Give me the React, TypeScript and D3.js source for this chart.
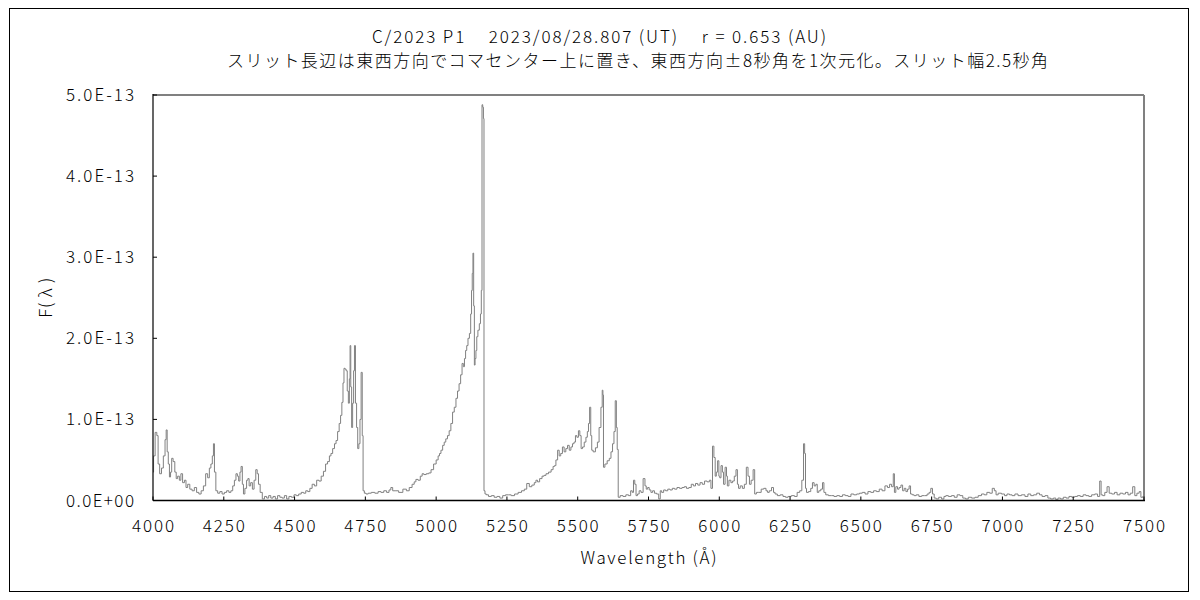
import React from 'react';
import * as d3 from 'd3';

const TITLE_LINE1 = 'C/2023 P1    2023/08/28.807 (UT)    r = 0.653 (AU)';
const TITLE_LINE2 = 'スリット長辺は東西方向でコマセンター上に置き、東西方向±8秒角を1次元化。スリット幅2.5秒角';
const X_LABEL = 'Wavelength (Å)';
const Y_LABEL = 'F( λ )';

const X_TICKS = [4000, 4250, 4500, 4750, 5000, 5250, 5500, 5750, 6000, 6250, 6500, 6750, 7000, 7250, 7500];
const Y_TICKS = [0, 1e-13, 2e-13, 3e-13, 4e-13, 5e-13];
const Y_TICK_LABELS = ['0.0E+00', '1.0E-13', '2.0E-13', '3.0E-13', '4.0E-13', '5.0E-13'];

// Spectrum, [wavelength Å, flux in units of 1e-13]
const SEG_BLUE: [number, number][] = [
  [4000, 0.35], [4004, 0.55], [4011, 0.84], [4016, 0.8], [4020, 0.45], [4027, 0.33], [4033, 0.4], [4040, 0.55],
  [4045, 0.75], [4048, 0.87], [4052, 0.6], [4056, 0.45], [4060, 0.29], [4064, 0.35], [4068, 0.52], [4074, 0.48],
  [4080, 0.35], [4084, 0.27], [4090, 0.3], [4096, 0.25], [4101, 0.33], [4108, 0.22], [4114, 0.25], [4119, 0.16],
  [4126, 0.2], [4134, 0.14], [4142, 0.12], [4150, 0.16], [4158, 0.1], [4166, 0.08], [4174, 0.12], [4182, 0.18],
  [4190, 0.33], [4196, 0.28], [4202, 0.4], [4207, 0.45], [4212, 0.55], [4215, 0.7], [4219, 0.35], [4225, 0.12],
  [4232, 0.09], [4240, 0.11], [4248, 0.08], [4256, 0.1], [4264, 0.12], [4272, 0.1], [4278, 0.12], [4285, 0.18],
  [4290, 0.25], [4296, 0.33], [4300, 0.3], [4305, 0.24], [4309, 0.35], [4313, 0.42], [4318, 0.2], [4321, 0.08],
  [4328, 0.15], [4333, 0.25], [4337, 0.27], [4342, 0.18], [4348, 0.22], [4354, 0.14], [4360, 0.25], [4366, 0.38],
  [4370, 0.33], [4375, 0.2], [4382, 0.1], [4390, 0.02], [4398, 0.05], [4405, 0.03], [4412, 0.06], [4420, 0.03],
  [4428, 0.05], [4436, 0.02], [4444, 0.06], [4452, 0.04], [4460, 0.03], [4468, 0.06], [4476, 0.02], [4484, 0.05],
  [4494, 0.04], [4502, 0.07], [4510, 0.06], [4519, 0.08], [4528, 0.1], [4536, 0.09], [4543, 0.12], [4550, 0.11],
  [4558, 0.15], [4566, 0.2], [4574, 0.18], [4582, 0.25], [4590, 0.24], [4598, 0.3], [4606, 0.36], [4613, 0.45],
  [4620, 0.48], [4626, 0.55], [4631, 0.58], [4638, 0.64], [4644, 0.7], [4649, 0.74], [4655, 0.85], [4660, 0.95],
  [4665, 1.05], [4669, 1.21], [4673, 1.45], [4676, 1.63], [4680, 1.62], [4684, 1.6], [4688, 1.35], [4692, 1.2],
  [4695, 1.5], [4697, 1.91], [4700, 1.4], [4703, 0.9], [4707, 1.2], [4710, 1.6], [4713, 1.91], [4717, 1.2],
  [4721, 0.9], [4725, 0.64], [4729, 0.7], [4733, 1.0], [4737, 1.58], [4741, 0.8], [4743, 0.12], [4750, 0.09],
  [4755, 0.08], [4765, 0.09], [4777, 0.1], [4790, 0.09], [4800, 0.11], [4810, 0.1], [4820, 0.12], [4830, 0.1],
  [4837, 0.13], [4843, 0.16], [4850, 0.12],
];

const SEG_C2_5165: [number, number][] = [
  [4860, 0.12], [4875, 0.1], [4890, 0.14], [4900, 0.12], [4910, 0.16], [4920, 0.2], [4925, 0.23], [4932, 0.26],
  [4940, 0.25], [4948, 0.3], [4953, 0.33], [4960, 0.32], [4970, 0.33], [4978, 0.34], [4986, 0.38], [4996, 0.45],
  [5004, 0.5], [5010, 0.55], [5014, 0.58], [5020, 0.62], [5026, 0.68], [5031, 0.72], [5037, 0.76], [5043, 0.8],
  [5049, 0.86], [5055, 0.95], [5061, 1.09], [5067, 1.15], [5073, 1.26], [5078, 1.35], [5084, 1.44], [5089, 1.55],
  [5094, 1.69], [5098, 1.65], [5102, 1.75], [5106, 1.85], [5110, 1.91], [5115, 2.0], [5120, 2.06], [5124, 2.3],
  [5126, 2.59], [5129, 2.8], [5131, 3.05], [5134, 2.4], [5136, 1.67], [5139, 1.75], [5142, 1.85], [5145, 2.02],
  [5150, 2.1], [5155, 2.18], [5158, 2.3], [5161, 2.59], [5163, 4.88], [5166, 4.85], [5168, 4.71], [5170, 0.12],
  [5175, 0.08],
];

const SEG_C2_5635: [number, number][] = [
  [5180, 0.07], [5190, 0.05], [5200, 0.06], [5210, 0.04], [5220, 0.05], [5230, 0.03], [5240, 0.06], [5250, 0.07],
  [5260, 0.07], [5270, 0.06], [5284, 0.08], [5295, 0.1], [5308, 0.12], [5315, 0.14], [5325, 0.21], [5333, 0.17],
  [5343, 0.19], [5350, 0.22], [5355, 0.25], [5361, 0.23], [5370, 0.27], [5378, 0.3], [5384, 0.31], [5392, 0.33],
  [5402, 0.35], [5410, 0.38], [5416, 0.42], [5420, 0.43], [5426, 0.5], [5432, 0.62], [5437, 0.55], [5443, 0.58],
  [5449, 0.66], [5455, 0.6], [5461, 0.64], [5467, 0.68], [5473, 0.62], [5479, 0.66], [5484, 0.7], [5490, 0.72],
  [5494, 0.8], [5500, 0.78], [5505, 0.86], [5510, 0.8], [5514, 0.64], [5520, 0.66], [5526, 0.72], [5532, 0.78],
  [5536, 0.85], [5540, 0.95], [5544, 1.15], [5548, 0.8], [5551, 0.62], [5558, 0.6], [5567, 0.65], [5572, 0.72],
  [5579, 0.9], [5585, 1.15], [5588, 1.36], [5590, 1.3], [5592, 0.41], [5600, 0.45], [5608, 0.49], [5615, 0.52],
  [5620, 0.6], [5626, 0.7], [5630, 0.85], [5635, 1.23], [5638, 0.9], [5641, 0.63], [5645, 0.04],
];

const SEG_RED: [number, number][] = [
  [5655, 0.06], [5665, 0.05], [5675, 0.07], [5684, 0.06], [5690, 0.12], [5695, 0.1], [5699, 0.25], [5704, 0.2],
  [5708, 0.06], [5714, 0.08], [5720, 0.12], [5727, 0.1], [5735, 0.27], [5740, 0.18], [5744, 0.14], [5750, 0.16],
  [5755, 0.13], [5762, 0.1], [5767, 0.12], [5775, 0.09], [5782, 0.08], [5790, 0.02], [5793, 0.12], [5800, 0.1],
  [5807, 0.13], [5814, 0.12], [5822, 0.14], [5830, 0.13], [5838, 0.15], [5846, 0.14], [5855, 0.16], [5864, 0.15],
  [5873, 0.16], [5880, 0.17], [5888, 0.15], [5897, 0.16], [5905, 0.2], [5912, 0.18], [5920, 0.21], [5928, 0.19],
  [5936, 0.22], [5944, 0.2], [5952, 0.24], [5962, 0.23], [5968, 0.25], [5973, 0.15], [5979, 0.67], [5983, 0.53],
  [5988, 0.3], [5991, 0.35], [5997, 0.49], [6000, 0.3], [6003, 0.28], [6009, 0.43], [6013, 0.35], [6017, 0.2],
  [6024, 0.41], [6027, 0.3], [6030, 0.18], [6038, 0.25], [6044, 0.22], [6050, 0.24], [6056, 0.3], [6062, 0.38],
  [6066, 0.2], [6070, 0.15], [6078, 0.18], [6085, 0.15], [6092, 0.2], [6099, 0.41], [6104, 0.3], [6109, 0.2],
  [6116, 0.25], [6123, 0.38], [6127, 0.08], [6135, 0.1], [6144, 0.1], [6152, 0.14], [6162, 0.15], [6168, 0.12],
  [6173, 0.1], [6180, 0.12], [6189, 0.16], [6194, 0.1], [6200, 0.08], [6210, 0.06], [6220, 0.07], [6230, 0.05],
  [6238, 0.04], [6248, 0.05], [6261, 0.06], [6270, 0.05], [6280, 0.1], [6288, 0.12], [6295, 0.25], [6300, 0.7],
  [6303, 0.58], [6306, 0.15], [6310, 0.1], [6320, 0.11], [6326, 0.15], [6332, 0.22], [6338, 0.18], [6344, 0.2],
  [6348, 0.1], [6355, 0.12], [6362, 0.14], [6367, 0.22], [6372, 0.1], [6380, 0.07], [6391, 0.06], [6400, 0.06],
];

const SEG_NIR: [number, number][] = [
  [6410, 0.05], [6420, 0.06], [6430, 0.05], [6440, 0.07], [6450, 0.06], [6460, 0.05], [6470, 0.08], [6480, 0.07],
  [6490, 0.08], [6500, 0.09], [6510, 0.1], [6520, 0.08], [6530, 0.11], [6540, 0.1], [6550, 0.12], [6560, 0.11],
  [6570, 0.14], [6580, 0.12], [6590, 0.18], [6598, 0.16], [6605, 0.2], [6612, 0.17], [6617, 0.33], [6620, 0.1],
  [6627, 0.17], [6632, 0.14], [6638, 0.16], [6645, 0.19], [6650, 0.12], [6656, 0.15], [6662, 0.11], [6668, 0.14],
  [6673, 0.18], [6678, 0.08], [6685, 0.07], [6691, 0.06], [6700, 0.07], [6710, 0.05], [6720, 0.06], [6730, 0.06],
  [6738, 0.08], [6744, 0.1], [6750, 0.15], [6756, 0.08], [6762, 0.03], [6770, 0.02], [6780, 0.04], [6790, 0.02],
  [6797, 0.05], [6803, 0.06], [6815, 0.05], [6825, 0.06], [6835, 0.04], [6845, 0.07], [6855, 0.06], [6865, 0.03],
  [6874, 0.02], [6885, 0.04], [6897, 0.03], [6909, 0.04], [6920, 0.06], [6932, 0.08], [6940, 0.07], [6950, 0.1],
  [6960, 0.09], [6968, 0.15], [6975, 0.12], [6980, 0.07], [6990, 0.09], [7003, 0.08], [7012, 0.06], [7020, 0.08],
  [7030, 0.07], [7038, 0.06], [7050, 0.08], [7060, 0.06], [7074, 0.07], [7085, 0.05], [7095, 0.08], [7105, 0.06],
  [7115, 0.07], [7127, 0.09], [7135, 0.07], [7145, 0.05], [7156, 0.06], [7165, 0.03], [7175, 0.02], [7185, 0.03],
  [7192, 0.01], [7200, 0.03], [7210, 0.02], [7220, 0.04], [7230, 0.03], [7240, 0.05], [7250, 0.04], [7260, 0.05],
  [7270, 0.06], [7280, 0.05], [7290, 0.07], [7300, 0.06], [7310, 0.05], [7320, 0.07], [7332, 0.08], [7340, 0.05],
  [7347, 0.24], [7350, 0.07], [7358, 0.06], [7365, 0.1], [7374, 0.17], [7380, 0.09], [7392, 0.08], [7400, 0.1],
  [7410, 0.07], [7420, 0.09], [7430, 0.08], [7439, 0.1], [7448, 0.07], [7455, 0.09], [7465, 0.17], [7470, 0.06],
  [7480, 0.09], [7486, 0.11], [7492, 0.04], [7500, 0.05],
];

const FLUX_UNIT = 1e-13;

const W = 1200;
const H = 600;
const PLOT = { left: 153, right: 1144, top: 95, bottom: 500.5 };
const FONT = "'Noto Sans CJK JP', 'Noto Sans', sans-serif";

export default function App() {
  const x = d3.scaleLinear().domain([4000, 7500]).range([PLOT.left, PLOT.right]);
  const y = d3.scaleLinear().domain([0, 5e-13]).range([PLOT.bottom, PLOT.top]);
  const data = [...SEG_BLUE, ...SEG_C2_5165, ...SEG_C2_5635, ...SEG_RED, ...SEG_NIR];
  const line = d3
    .line<[number, number]>()
    .x((d) => x(d[0]))
    .y((d) => y(d[1] * FLUX_UNIT))
    .curve(d3.curveStep);

  return (
    <svg
      width={W}
      height={H}
      style={{ position: 'absolute', left: 0, top: 0, background: '#fff' }}
      fontFamily={FONT}
      fontWeight={300}
    >
      <rect x={0} y={0} width={W} height={H} fill="#fff" />
      {/* outer chart border */}
      <rect x={9.5} y={8.5} width={1179} height={583} fill="none" stroke="#000" strokeWidth={1} />

      {/* title */}
      <text x={372} y={43} fontSize={17} fill="#000" textLength={454} lengthAdjust="spacing" style={{ whiteSpace: 'pre' }}>
        {TITLE_LINE1}
      </text>
      <text x={227} y={67} fontSize={17} fill="#000" textLength={821} lengthAdjust="spacing">
        {TITLE_LINE2}
      </text>

      {/* plot frame: gray top and right */}
      <line x1={PLOT.left} x2={PLOT.right} y1={PLOT.top} y2={PLOT.top} stroke="#808080" strokeWidth={2} />
      <line x1={PLOT.right} x2={PLOT.right} y1={PLOT.top} y2={PLOT.bottom} stroke="#808080" strokeWidth={2} />

      {/* spectrum */}
      <path d={line(data) || ''} fill="none" stroke="#808080" strokeWidth={1} />

      {/* axes */}
      <line x1={PLOT.left} x2={PLOT.left} y1={PLOT.top - 1} y2={PLOT.bottom} stroke="#000" strokeWidth={1.2} />
      <line x1={PLOT.left} x2={PLOT.right + 1} y1={PLOT.bottom} y2={PLOT.bottom} stroke="#000" strokeWidth={1.5} />

      {Y_TICKS.map((t, i) => (
        <g key={'y' + t}>
          <line x1={PLOT.left} x2={PLOT.left + 4} y1={y(t)} y2={y(t)} stroke="#000" strokeWidth={1} />
          <text
            x={134}
            y={y(t) + 6}
            fontSize={17}
            textAnchor="end"
            fill="#000"
            textLength={68}
            lengthAdjust="spacing"
          >
            {Y_TICK_LABELS[i]}
          </text>
        </g>
      ))}

      {X_TICKS.map((t) => (
        <g key={'x' + t}>
          <line x1={x(t)} x2={x(t)} y1={PLOT.bottom} y2={PLOT.bottom - 4} stroke="#000" strokeWidth={1} />
          <text x={x(t)} y={532} fontSize={17} textAnchor="middle" fill="#000" textLength={42} lengthAdjust="spacing">
            {String(t)}
          </text>
        </g>
      ))}

      <text
        x={(PLOT.left + PLOT.right) / 2}
        y={564}
        fontSize={17}
        textAnchor="middle"
        fill="#000"
        textLength={136}
        lengthAdjust="spacing"
        style={{ whiteSpace: 'pre' }}
      >
        {X_LABEL}
      </text>
      <text
        transform={`translate(52, ${(PLOT.top + PLOT.bottom) / 2}) rotate(-90)`}
        fontSize={17}
        textAnchor="middle"
        fill="#000"
        textLength={40}
        lengthAdjust="spacing"
        style={{ whiteSpace: 'pre' }}
      >
        {Y_LABEL}
      </text>
    </svg>
  );
}
